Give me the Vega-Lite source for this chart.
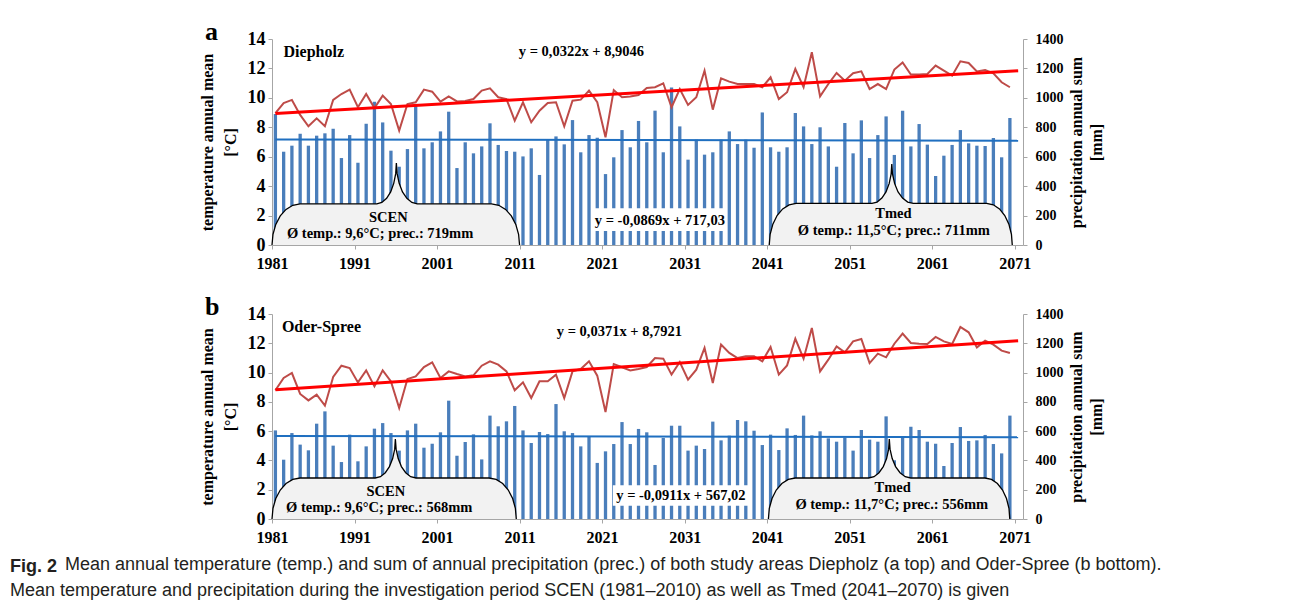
{
"$schema": "https://vega.github.io/schema/vega-lite/v6.json",
"background": "white",
"padding": {"left": 10, "top": 19, "right": 10, "bottom": 6},
"spacing": 23,
"title": {"text": "Fig. 2", "subtitle": ["\u200b\u00a0\u00a0\u00a0\u00a0\u00a0\u00a0\u00a0\u00a0\u00a0\u00a0\u00a0Mean annual temperature (temp.) and sum of annual precipitation (prec.) of both study areas Diepholz (a top) and Oder-Spree (b bottom).", "Mean temperature and precipitation during the investigation period SCEN (1981–2010) as well as Tmed (2041–2070) is given"], "orient": "bottom", "anchor": "start", "frame": "bounds", "font": "Liberation Sans", "fontSize": 18, "fontWeight": "bold", "color": "#231F20", "subtitleFont": "Liberation Sans", "subtitleFontSize": 18, "subtitleColor": "#231F20", "subtitlePadding": -20, "subtitleLineHeight": 26, "dx": -189, "offset": 13},
"datasets": {
"diepholz": [
{"year":1981,"temp":8.97,"precip":890},{"year":1982,"temp":9.65,"precip":634},{"year":1983,"temp":9.86,"precip":675},{"year":1984,"temp":8.84,"precip":756},{"year":1985,"temp":8.07,"precip":675},{"year":1986,"temp":8.61,"precip":743},{"year":1987,"temp":8.07,"precip":759},{"year":1988,"temp":9.86,"precip":790},{"year":1989,"temp":10.26,"precip":591},{"year":1990,"temp":10.56,"precip":747},
{"year":1991,"temp":9.36,"precip":559},{"year":1992,"temp":10.26,"precip":824},{"year":1993,"temp":9.31,"precip":974},{"year":1994,"temp":10.15,"precip":833},{"year":1995,"temp":9.58,"precip":641},{"year":1996,"temp":7.77,"precip":532},{"year":1997,"temp":9.58,"precip":652},{"year":1998,"temp":9.70,"precip":947},{"year":1999,"temp":10.56,"precip":657},{"year":2000,"temp":10.42,"precip":698},
{"year":2001,"temp":9.74,"precip":772},{"year":2002,"temp":10.10,"precip":906},{"year":2003,"temp":9.76,"precip":523},{"year":2004,"temp":9.79,"precip":698},{"year":2005,"temp":9.92,"precip":623},{"year":2006,"temp":10.49,"precip":670},{"year":2007,"temp":10.65,"precip":827},{"year":2008,"temp":10.04,"precip":680},{"year":2009,"temp":9.92,"precip":639},{"year":2010,"temp":8.45,"precip":634},
{"year":2011,"temp":9.70,"precip":602},{"year":2012,"temp":8.34,"precip":657},{"year":2013,"temp":9.13,"precip":476},{"year":2014,"temp":9.65,"precip":720},{"year":2015,"temp":9.70,"precip":738},{"year":2016,"temp":8.07,"precip":684},{"year":2017,"temp":9.81,"precip":849},{"year":2018,"temp":9.88,"precip":630},{"year":2019,"temp":10.49,"precip":747},{"year":2020,"temp":9.70,"precip":729},
{"year":2021,"temp":7.32,"precip":482},{"year":2022,"temp":10.53,"precip":596},{"year":2023,"temp":10.04,"precip":781},{"year":2024,"temp":10.10,"precip":664},{"year":2025,"temp":10.19,"precip":843},{"year":2026,"temp":10.67,"precip":698},{"year":2027,"temp":10.72,"precip":913},{"year":2028,"temp":10.99,"precip":630},{"year":2029,"temp":9.36,"precip":1071},{"year":2030,"temp":10.60,"precip":806},
{"year":2031,"temp":9.52,"precip":580},{"year":2032,"temp":10.04,"precip":716},{"year":2033,"temp":11.85,"precip":614},{"year":2034,"temp":9.20,"precip":630},{"year":2035,"temp":11.33,"precip":716},{"year":2036,"temp":11.10,"precip":772},{"year":2037,"temp":10.94,"precip":686},{"year":2038,"temp":10.94,"precip":716},{"year":2039,"temp":10.94,"precip":661},{"year":2040,"temp":10.72,"precip":901},
{"year":2041,"temp":11.40,"precip":664},{"year":2042,"temp":9.92,"precip":634},{"year":2043,"temp":10.38,"precip":664},{"year":2044,"temp":11.96,"precip":897},{"year":2045,"temp":10.72,"precip":806},{"year":2046,"temp":13.10,"precip":686},{"year":2047,"temp":10.10,"precip":800},{"year":2048,"temp":10.94,"precip":670},{"year":2049,"temp":11.69,"precip":532},{"year":2050,"temp":11.17,"precip":829},
{"year":2051,"temp":11.67,"precip":623},{"year":2052,"temp":11.80,"precip":847},{"year":2053,"temp":10.60,"precip":591},{"year":2054,"temp":10.94,"precip":747},{"year":2055,"temp":10.60,"precip":874},{"year":2056,"temp":11.92,"precip":612},{"year":2057,"temp":12.41,"precip":913},{"year":2058,"temp":11.58,"precip":670},{"year":2059,"temp":11.58,"precip":822},{"year":2060,"temp":11.62,"precip":682},
{"year":2061,"temp":12.19,"precip":469},{"year":2062,"temp":11.85,"precip":607},{"year":2063,"temp":11.51,"precip":680},{"year":2064,"temp":12.48,"precip":781},{"year":2065,"temp":12.37,"precip":691},{"year":2066,"temp":11.80,"precip":675},{"year":2067,"temp":11.89,"precip":673},{"year":2068,"temp":11.67,"precip":727},{"year":2069,"temp":11.06,"precip":596},{"year":2070,"temp":10.72,"precip":863}
],
"oder": [
{"year":1981,"temp":8.79,"precip":605},{"year":1982,"temp":9.63,"precip":405},{"year":1983,"temp":9.97,"precip":587},{"year":1984,"temp":8.54,"precip":508},{"year":1985,"temp":8.10,"precip":469},{"year":1986,"temp":8.49,"precip":651},{"year":1987,"temp":7.74,"precip":735},{"year":1988,"temp":9.70,"precip":501},{"year":1989,"temp":10.47,"precip":389},{"year":1990,"temp":10.31,"precip":576},
{"year":1991,"temp":9.33,"precip":394},{"year":1992,"temp":10.15,"precip":496},{"year":1993,"temp":9.06,"precip":617},{"year":1994,"temp":10.15,"precip":655},{"year":1995,"temp":9.40,"precip":587},{"year":1996,"temp":7.58,"precip":467},{"year":1997,"temp":9.56,"precip":605},{"year":1998,"temp":9.74,"precip":651},{"year":1999,"temp":10.38,"precip":487},{"year":2000,"temp":10.70,"precip":514},
{"year":2001,"temp":9.63,"precip":592},{"year":2002,"temp":10.08,"precip":808},{"year":2003,"temp":9.90,"precip":432},{"year":2004,"temp":9.74,"precip":526},{"year":2005,"temp":9.81,"precip":578},{"year":2006,"temp":10.47,"precip":407},{"year":2007,"temp":10.77,"precip":706},{"year":2008,"temp":10.54,"precip":633},{"year":2009,"temp":10.08,"precip":667},{"year":2010,"temp":8.79,"precip":772},
{"year":2011,"temp":9.33,"precip":605},{"year":2012,"temp":8.26,"precip":519},{"year":2013,"temp":9.40,"precip":594},{"year":2014,"temp":9.40,"precip":580},{"year":2015,"temp":9.86,"precip":785},{"year":2016,"temp":8.26,"precip":599},{"year":2017,"temp":10.08,"precip":587},{"year":2018,"temp":10.24,"precip":496},{"year":2019,"temp":10.77,"precip":560},{"year":2020,"temp":9.79,"precip":383},
{"year":2021,"temp":7.31,"precip":462},{"year":2022,"temp":10.58,"precip":512},{"year":2023,"temp":10.36,"precip":662},{"year":2024,"temp":10.15,"precip":512},{"year":2025,"temp":10.24,"precip":615},{"year":2026,"temp":10.38,"precip":592},{"year":2027,"temp":10.99,"precip":369},{"year":2028,"temp":10.95,"precip":553},{"year":2029,"temp":9.86,"precip":637},{"year":2030,"temp":10.72,"precip":637},
{"year":2031,"temp":9.51,"precip":467},{"year":2032,"temp":10.20,"precip":501},{"year":2033,"temp":11.68,"precip":478},{"year":2034,"temp":9.29,"precip":665},{"year":2035,"temp":11.91,"precip":537},{"year":2036,"temp":11.34,"precip":569},{"year":2037,"temp":10.99,"precip":676},{"year":2038,"temp":11.11,"precip":667},{"year":2039,"temp":11.11,"precip":603},{"year":2040,"temp":10.77,"precip":505},
{"year":2041,"temp":11.75,"precip":576},{"year":2042,"temp":9.86,"precip":471},{"year":2043,"temp":10.49,"precip":619},{"year":2044,"temp":12.31,"precip":574},{"year":2045,"temp":10.95,"precip":706},{"year":2046,"temp":13.04,"precip":571},{"year":2047,"temp":10.08,"precip":599},{"year":2048,"temp":10.88,"precip":551},{"year":2049,"temp":11.79,"precip":528},{"year":2050,"temp":11.38,"precip":555},
{"year":2051,"temp":12.13,"precip":467},{"year":2052,"temp":12.29,"precip":608},{"year":2053,"temp":10.65,"precip":542},{"year":2054,"temp":11.29,"precip":528},{"year":2055,"temp":11.04,"precip":701},{"year":2056,"temp":11.97,"precip":401},{"year":2057,"temp":12.66,"precip":555},{"year":2058,"temp":12.02,"precip":630},{"year":2059,"temp":11.97,"precip":608},{"year":2060,"temp":11.95,"precip":528},
{"year":2061,"temp":12.43,"precip":514},{"year":2062,"temp":12.13,"precip":362},{"year":2063,"temp":11.95,"precip":519},{"year":2064,"temp":13.11,"precip":628},{"year":2065,"temp":12.75,"precip":533},{"year":2066,"temp":11.72,"precip":537},{"year":2067,"temp":12.18,"precip":574},{"year":2068,"temp":11.91,"precip":512},{"year":2069,"temp":11.50,"precip":448},{"year":2070,"temp":11.34,"precip":706}
],
"trend_a": [{"year":1981,"temp":8.937,"precip":716.94},{"year":2071,"temp":11.835,"precip":709.12}],
"trend_b": [{"year":1981,"temp":8.829,"precip":566.93},{"year":2071,"temp":12.168,"precip":558.73}],
"callout_a": [
{"box":"SCEN","yr":1981.00,"t":0},{"box":"SCEN","yr":1981.12,"t":0.73},{"box":"SCEN","yr":1981.46,"t":1.40},{"box":"SCEN","yr":1982.00,"t":1.98},{"box":"SCEN","yr":1982.70,"t":2.42},{"box":"SCEN","yr":1983.52,"t":2.70},{"box":"SCEN","yr":1984.40,"t":2.80},
{"box":"SCEN","yr":1993.70,"t":2.80},{"box":"SCEN","yr":1994.31,"t":2.89},{"box":"SCEN","yr":1994.89,"t":3.17},{"box":"SCEN","yr":1995.38,"t":3.61},{"box":"SCEN","yr":1995.75,"t":4.19},{"box":"SCEN","yr":1995.99,"t":4.85},{"box":"SCEN","yr":1996.07,"t":5.57},
{"box":"SCEN","yr":1996.16,"t":4.85},{"box":"SCEN","yr":1996.41,"t":4.19},{"box":"SCEN","yr":1996.81,"t":3.61},{"box":"SCEN","yr":1997.34,"t":3.17},{"box":"SCEN","yr":1997.95,"t":2.89},{"box":"SCEN","yr":1998.60,"t":2.80},
{"box":"SCEN","yr":2007.60,"t":2.80},{"box":"SCEN","yr":2008.48,"t":2.70},{"box":"SCEN","yr":2009.30,"t":2.42},{"box":"SCEN","yr":2010.00,"t":1.98},{"box":"SCEN","yr":2010.54,"t":1.40},{"box":"SCEN","yr":2010.88,"t":0.73},{"box":"SCEN","yr":2011.00,"t":0},
{"box":"Tmed","yr":2041.25,"t":0},{"box":"Tmed","yr":2041.36,"t":0.73},{"box":"Tmed","yr":2041.69,"t":1.42},{"box":"Tmed","yr":2042.20,"t":2.00},{"box":"Tmed","yr":2042.88,"t":2.45},{"box":"Tmed","yr":2043.66,"t":2.73},{"box":"Tmed","yr":2044.50,"t":2.83},
{"box":"Tmed","yr":2053.70,"t":2.83},{"box":"Tmed","yr":2054.32,"t":2.92},{"box":"Tmed","yr":2054.90,"t":3.19},{"box":"Tmed","yr":2055.40,"t":3.61},{"box":"Tmed","yr":2055.78,"t":4.17},{"box":"Tmed","yr":2056.02,"t":4.81},{"box":"Tmed","yr":2056.10,"t":5.50},
{"box":"Tmed","yr":2056.19,"t":4.81},{"box":"Tmed","yr":2056.45,"t":4.17},{"box":"Tmed","yr":2056.86,"t":3.61},{"box":"Tmed","yr":2057.40,"t":3.19},{"box":"Tmed","yr":2058.03,"t":2.92},{"box":"Tmed","yr":2058.70,"t":2.83},
{"box":"Tmed","yr":2067.60,"t":2.83},{"box":"Tmed","yr":2068.40,"t":2.73},{"box":"Tmed","yr":2069.15,"t":2.45},{"box":"Tmed","yr":2069.79,"t":2.00},{"box":"Tmed","yr":2070.29,"t":1.42},{"box":"Tmed","yr":2070.60,"t":0.73},{"box":"Tmed","yr":2070.70,"t":0}
],
"callout_b": [
{"box":"SCEN","yr":1981.00,"t":0},{"box":"SCEN","yr":1981.12,"t":0.73},{"box":"SCEN","yr":1981.46,"t":1.40},{"box":"SCEN","yr":1982.00,"t":1.98},{"box":"SCEN","yr":1982.70,"t":2.42},{"box":"SCEN","yr":1983.52,"t":2.70},{"box":"SCEN","yr":1984.40,"t":2.80},
{"box":"SCEN","yr":1993.50,"t":2.80},{"box":"SCEN","yr":1994.14,"t":2.89},{"box":"SCEN","yr":1994.73,"t":3.16},{"box":"SCEN","yr":1995.23,"t":3.58},{"box":"SCEN","yr":1995.62,"t":4.13},{"box":"SCEN","yr":1995.87,"t":4.77},{"box":"SCEN","yr":1995.95,"t":5.46},
{"box":"SCEN","yr":1996.04,"t":4.77},{"box":"SCEN","yr":1996.29,"t":4.13},{"box":"SCEN","yr":1996.68,"t":3.58},{"box":"SCEN","yr":1997.20,"t":3.16},{"box":"SCEN","yr":1997.80,"t":2.89},{"box":"SCEN","yr":1998.45,"t":2.80},
{"box":"SCEN","yr":2007.30,"t":2.80},{"box":"SCEN","yr":2008.16,"t":2.70},{"box":"SCEN","yr":2008.95,"t":2.42},{"box":"SCEN","yr":2009.63,"t":1.98},{"box":"SCEN","yr":2010.16,"t":1.40},{"box":"SCEN","yr":2010.49,"t":0.73},{"box":"SCEN","yr":2010.60,"t":0},
{"box":"Tmed","yr":2041.15,"t":0},{"box":"Tmed","yr":2041.26,"t":0.73},{"box":"Tmed","yr":2041.59,"t":1.40},{"box":"Tmed","yr":2042.10,"t":1.98},{"box":"Tmed","yr":2042.78,"t":2.42},{"box":"Tmed","yr":2043.56,"t":2.70},{"box":"Tmed","yr":2044.40,"t":2.80},
{"box":"Tmed","yr":2053.30,"t":2.80},{"box":"Tmed","yr":2053.95,"t":2.89},{"box":"Tmed","yr":2054.55,"t":3.16},{"box":"Tmed","yr":2055.07,"t":3.58},{"box":"Tmed","yr":2055.47,"t":4.13},{"box":"Tmed","yr":2055.72,"t":4.77},{"box":"Tmed","yr":2055.80,"t":5.46},
{"box":"Tmed","yr":2055.89,"t":4.77},{"box":"Tmed","yr":2056.15,"t":4.13},{"box":"Tmed","yr":2056.56,"t":3.58},{"box":"Tmed","yr":2057.10,"t":3.16},{"box":"Tmed","yr":2057.73,"t":2.89},{"box":"Tmed","yr":2058.40,"t":2.80},
{"box":"Tmed","yr":2067.40,"t":2.80},{"box":"Tmed","yr":2068.18,"t":2.70},{"box":"Tmed","yr":2068.90,"t":2.42},{"box":"Tmed","yr":2069.52,"t":1.98},{"box":"Tmed","yr":2070.00,"t":1.40},{"box":"Tmed","yr":2070.30,"t":0.73},{"box":"Tmed","yr":2070.40,"t":0}
]
},
"vconcat": [
{
"title": {"text": "a", "anchor": "start", "frame": "bounds", "font": "Liberation Serif", "fontSize": 26, "fontWeight": "bold", "color": "black", "offset": -15, "dx": 6},
"width": 751, "height": 206,
"resolve": {"scale": {"y": "independent"}},
"layer": [
{"layer": [
{"data": {"name": "diepholz"},
 "mark": {"type": "bar", "width": 3.3, "xOffset": 3.4, "color": "#4A7EBB"},
 "encoding": {
  "x": {"field": "year", "type": "quantitative", "scale": {"domain": [1981, 2072], "nice": false, "zero": false, "padding": 0},
        "axis": {"values": [1981,1991,2001,2011,2021,2031,2041,2051,2061,2071], "format": "d", "title": null, "labelFont": "Liberation Serif", "labelFontSize": 16, "labelFontWeight": "bold", "labelFlush": false, "labelOverlap": false, "tickSize": 4, "labelPadding": 6, "domainColor": "#A6A6A6", "tickColor": "#A6A6A6"}},
  "y": {"field": "precip", "type": "quantitative", "scale": {"domain": [0, 1400], "nice": false},
        "axis": {"orient": "right", "values": [0,200,400,600,800,1000,1200,1400], "format": "d", "title": ["precipitation annual sum", "[mm]"], "titleAngle": -90, "titleFont": "Liberation Serif", "titleFontSize": 16, "titleFontWeight": "bold", "titleLineHeight": 20, "titlePadding": 1, "labelFont": "Liberation Serif", "labelFontSize": 14, "labelFontWeight": "bold", "labelFlush": false, "labelOverlap": false, "tickSize": 4, "labelPadding": 8, "domainColor": "#A6A6A6", "tickColor": "#A6A6A6"}}
 }},
{"data": {"name": "trend_a"},
 "mark": {"type": "line", "color": "#1F6FC0", "strokeWidth": 2, "xOffset": 3.4},
 "encoding": {
  "x": {"field": "year", "type": "quantitative", "scale": {"domain": [1981, 2072], "nice": false, "zero": false, "padding": 0}},
  "y": {"field": "precip", "type": "quantitative", "scale": {"domain": [0, 1400], "nice": false}}
 }}
]},
{"layer": [
{"data": {"name": "diepholz"},
 "mark": {"type": "line", "color": "#BE4B48", "strokeWidth": 2, "xOffset": 3.4},
 "encoding": {
  "x": {"field": "year", "type": "quantitative", "scale": {"domain": [1981, 2072], "nice": false, "zero": false, "padding": 0}},
  "y": {"field": "temp", "type": "quantitative", "scale": {"domain": [0, 14], "nice": false},
        "axis": {"orient": "left", "values": [0,2,4,6,8,10,12,14], "title": ["temperature annual mean", "[°C]"], "titleFont": "Liberation Serif", "titleFontSize": 16, "titleFontWeight": "bold", "titleLineHeight": 23, "titlePadding": 9, "labelFont": "Liberation Serif", "labelFontSize": 18, "labelFontWeight": "bold", "labelFlush": false, "labelOverlap": false, "tickSize": 4, "labelPadding": 3, "domainColor": "#A6A6A6", "tickColor": "#A6A6A6"}}
 }},
{"data": {"name": "trend_a"},
 "mark": {"type": "line", "color": "#FF0000", "strokeWidth": 3, "xOffset": 3.4},
 "encoding": {
  "x": {"field": "year", "type": "quantitative", "scale": {"domain": [1981, 2072], "nice": false, "zero": false, "padding": 0}},
  "y": {"field": "temp", "type": "quantitative", "scale": {"domain": [0, 14], "nice": false}}
 }},
{"data": {"name": "callout_a"},
 "mark": {"type": "area", "color": "#F2F2F2", "opacity": 1},
 "encoding": {
  "x": {"field": "yr", "type": "quantitative", "scale": {"domain": [1981, 2072], "nice": false, "zero": false, "padding": 0}},
  "y": {"field": "t", "type": "quantitative", "stack": null, "scale": {"domain": [0, 14], "nice": false}},
  "detail": {"field": "box", "type": "nominal"}
 }},
{"data": {"name": "callout_a"},
 "mark": {"type": "line", "color": "black", "strokeWidth": 1.3},
 "encoding": {
  "x": {"field": "yr", "type": "quantitative", "scale": {"domain": [1981, 2072], "nice": false, "zero": false, "padding": 0}},
  "y": {"field": "t", "type": "quantitative", "scale": {"domain": [0, 14], "nice": false}},
  "detail": {"field": "box", "type": "nominal"}
 }},
{"data": {"values": [{}]},
 "mark": {"type": "rect", "color": "white"},
 "encoding": {"x": {"datum": 2019.8}, "x2": {"datum": 2036.1}, "y": {"datum": 0.95}, "y2": {"datum": 2.5}}},
{"data": {"values": [{}]},
 "mark": {"type": "text", "text": "Diepholz", "align": "left", "baseline": "middle", "font": "Liberation Serif", "fontSize": 16, "fontWeight": "bold", "color": "black"},
 "encoding": {"x": {"datum": 1982.4}, "y": {"datum": 13.15}}},
{"data": {"values": [{}]},
 "mark": {"type": "text", "text": "y = 0,0322x + 8,9046", "align": "center", "baseline": "middle", "font": "Liberation Serif", "fontSize": 14.5, "fontWeight": "bold", "color": "black"},
 "encoding": {"x": {"datum": 2018.5}, "y": {"datum": 13.15}}},
{"data": {"values": [{}]},
 "mark": {"type": "text", "text": "y = -0,0869x + 717,03", "align": "center", "baseline": "middle", "font": "Liberation Serif", "fontSize": 14.5, "fontWeight": "bold", "color": "black"},
 "encoding": {"x": {"datum": 2028.0}, "y": {"datum": 1.65}}},
{"data": {"values": [{}]},
 "mark": {"type": "text", "text": "SCEN", "align": "center", "baseline": "middle", "font": "Liberation Serif", "fontSize": 14.5, "fontWeight": "bold", "color": "black"},
 "encoding": {"x": {"datum": 1995.1}, "y": {"datum": 1.83}}},
{"data": {"values": [{}]},
 "mark": {"type": "text", "text": "Ø temp.: 9,6°C; prec.: 719mm", "align": "center", "baseline": "middle", "font": "Liberation Serif", "fontSize": 14.5, "fontWeight": "bold", "color": "black"},
 "encoding": {"x": {"datum": 1994.1}, "y": {"datum": 0.75}}},
{"data": {"values": [{}]},
 "mark": {"type": "text", "text": "Tmed", "align": "center", "baseline": "middle", "font": "Liberation Serif", "fontSize": 14.5, "fontWeight": "bold", "color": "black"},
 "encoding": {"x": {"datum": 2056.3}, "y": {"datum": 2.11}}},
{"data": {"values": [{}]},
 "mark": {"type": "text", "text": "Ø temp.: 11,5°C; prec.: 711mm", "align": "center", "baseline": "middle", "font": "Liberation Serif", "fontSize": 14.5, "fontWeight": "bold", "color": "black"},
 "encoding": {"x": {"datum": 2056.35}, "y": {"datum": 0.93}}}
]}
]
},
{
"title": {"text": "b", "anchor": "start", "frame": "bounds", "font": "Liberation Serif", "fontSize": 26, "fontWeight": "bold", "color": "black", "offset": -15, "dx": 6},
"width": 751, "height": 205,
"resolve": {"scale": {"y": "independent"}},
"layer": [
{"layer": [
{"data": {"name": "oder"},
 "mark": {"type": "bar", "width": 3.3, "xOffset": 3.4, "color": "#4A7EBB"},
 "encoding": {
  "x": {"field": "year", "type": "quantitative", "scale": {"domain": [1981, 2072], "nice": false, "zero": false, "padding": 0},
        "axis": {"values": [1981,1991,2001,2011,2021,2031,2041,2051,2061,2071], "format": "d", "title": null, "labelFont": "Liberation Serif", "labelFontSize": 16, "labelFontWeight": "bold", "labelFlush": false, "labelOverlap": false, "tickSize": 4, "labelPadding": 6, "domainColor": "#A6A6A6", "tickColor": "#A6A6A6"}},
  "y": {"field": "precip", "type": "quantitative", "scale": {"domain": [0, 1400], "nice": false},
        "axis": {"orient": "right", "values": [0,200,400,600,800,1000,1200,1400], "format": "d", "title": ["precipitation annual sum", "[mm]"], "titleAngle": -90, "titleFont": "Liberation Serif", "titleFontSize": 16, "titleFontWeight": "bold", "titleLineHeight": 20, "titlePadding": 1, "labelFont": "Liberation Serif", "labelFontSize": 14, "labelFontWeight": "bold", "labelFlush": false, "labelOverlap": false, "tickSize": 4, "labelPadding": 8, "domainColor": "#A6A6A6", "tickColor": "#A6A6A6"}}
 }},
{"data": {"name": "trend_b"},
 "mark": {"type": "line", "color": "#1F6FC0", "strokeWidth": 2, "xOffset": 3.4},
 "encoding": {
  "x": {"field": "year", "type": "quantitative", "scale": {"domain": [1981, 2072], "nice": false, "zero": false, "padding": 0}},
  "y": {"field": "precip", "type": "quantitative", "scale": {"domain": [0, 1400], "nice": false}}
 }}
]},
{"layer": [
{"data": {"name": "oder"},
 "mark": {"type": "line", "color": "#BE4B48", "strokeWidth": 2, "xOffset": 3.4},
 "encoding": {
  "x": {"field": "year", "type": "quantitative", "scale": {"domain": [1981, 2072], "nice": false, "zero": false, "padding": 0}},
  "y": {"field": "temp", "type": "quantitative", "scale": {"domain": [0, 14], "nice": false},
        "axis": {"orient": "left", "values": [0,2,4,6,8,10,12,14], "title": ["temperature annual mean", "[°C]"], "titleFont": "Liberation Serif", "titleFontSize": 16, "titleFontWeight": "bold", "titleLineHeight": 23, "titlePadding": 9, "labelFont": "Liberation Serif", "labelFontSize": 18, "labelFontWeight": "bold", "labelFlush": false, "labelOverlap": false, "tickSize": 4, "labelPadding": 3, "domainColor": "#A6A6A6", "tickColor": "#A6A6A6"}}
 }},
{"data": {"name": "trend_b"},
 "mark": {"type": "line", "color": "#FF0000", "strokeWidth": 3, "xOffset": 3.4},
 "encoding": {
  "x": {"field": "year", "type": "quantitative", "scale": {"domain": [1981, 2072], "nice": false, "zero": false, "padding": 0}},
  "y": {"field": "temp", "type": "quantitative", "scale": {"domain": [0, 14], "nice": false}}
 }},
{"data": {"name": "callout_b"},
 "mark": {"type": "area", "color": "#F2F2F2", "opacity": 1},
 "encoding": {
  "x": {"field": "yr", "type": "quantitative", "scale": {"domain": [1981, 2072], "nice": false, "zero": false, "padding": 0}},
  "y": {"field": "t", "type": "quantitative", "stack": null, "scale": {"domain": [0, 14], "nice": false}},
  "detail": {"field": "box", "type": "nominal"}
 }},
{"data": {"name": "callout_b"},
 "mark": {"type": "line", "color": "black", "strokeWidth": 1.3},
 "encoding": {
  "x": {"field": "yr", "type": "quantitative", "scale": {"domain": [1981, 2072], "nice": false, "zero": false, "padding": 0}},
  "y": {"field": "t", "type": "quantitative", "scale": {"domain": [0, 14], "nice": false}},
  "detail": {"field": "box", "type": "nominal"}
 }},
{"data": {"values": [{}]},
 "mark": {"type": "rect", "color": "white"},
 "encoding": {"x": {"datum": 2022.3}, "x2": {"datum": 2038.7}, "y": {"datum": 0.9}, "y2": {"datum": 2.3}}},
{"data": {"values": [{}]},
 "mark": {"type": "text", "text": "Oder-Spree", "align": "left", "baseline": "middle", "font": "Liberation Serif", "fontSize": 16, "fontWeight": "bold", "color": "black"},
 "encoding": {"x": {"datum": 1982.2}, "y": {"datum": 13.1}}},
{"data": {"values": [{}]},
 "mark": {"type": "text", "text": "y = 0,0371x + 8,7921", "align": "center", "baseline": "middle", "font": "Liberation Serif", "fontSize": 14.5, "fontWeight": "bold", "color": "black"},
 "encoding": {"x": {"datum": 2023.1}, "y": {"datum": 12.77}}},
{"data": {"values": [{}]},
 "mark": {"type": "text", "text": "y = -0,0911x + 567,02", "align": "center", "baseline": "middle", "font": "Liberation Serif", "fontSize": 14.5, "fontWeight": "bold", "color": "black"},
 "encoding": {"x": {"datum": 2030.55}, "y": {"datum": 1.59}}},
{"data": {"values": [{}]},
 "mark": {"type": "text", "text": "SCEN", "align": "center", "baseline": "middle", "font": "Liberation Serif", "fontSize": 14.5, "fontWeight": "bold", "color": "black"},
 "encoding": {"x": {"datum": 1994.8}, "y": {"datum": 1.84}}},
{"data": {"values": [{}]},
 "mark": {"type": "text", "text": "Ø temp.: 9,6°C; prec.: 568mm", "align": "center", "baseline": "middle", "font": "Liberation Serif", "fontSize": 14.5, "fontWeight": "bold", "color": "black"},
 "encoding": {"x": {"datum": 1994.0}, "y": {"datum": 0.75}}},
{"data": {"values": [{}]},
 "mark": {"type": "text", "text": "Tmed", "align": "center", "baseline": "middle", "font": "Liberation Serif", "fontSize": 14.5, "fontWeight": "bold", "color": "black"},
 "encoding": {"x": {"datum": 2056.2}, "y": {"datum": 2.12}}},
{"data": {"values": [{}]},
 "mark": {"type": "text", "text": "Ø temp.: 11,7°C; prec.: 556mm", "align": "center", "baseline": "middle", "font": "Liberation Serif", "fontSize": 14.5, "fontWeight": "bold", "color": "black"},
 "encoding": {"x": {"datum": 2056.1}, "y": {"datum": 0.93}}}
]}
]
}
],
"config": {"view": {"stroke": null}, "axis": {"grid": false, "labelColor": "black", "titleColor": "black", "labelOverlap": false}, "axisY": {"labelOverlap": false, "tickCount": 8}}
}
